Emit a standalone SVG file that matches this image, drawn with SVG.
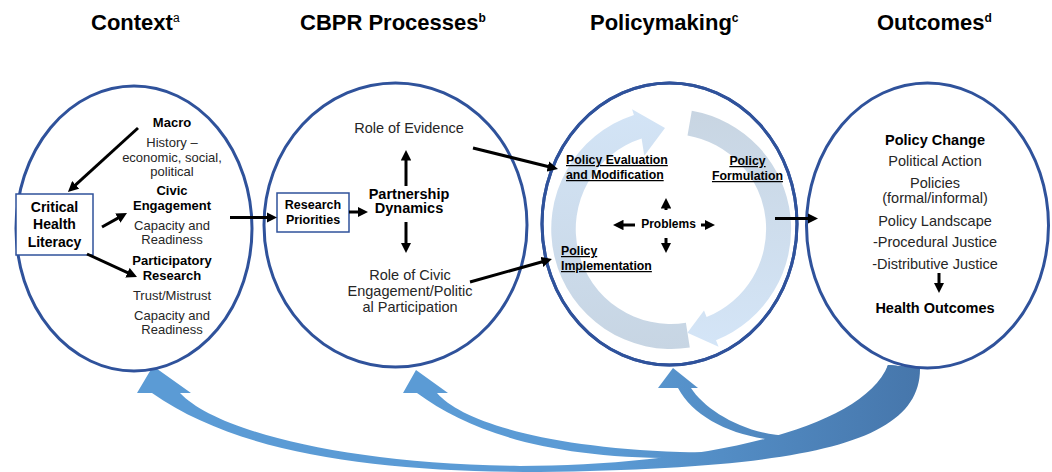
<svg xmlns="http://www.w3.org/2000/svg" width="1052" height="472" viewBox="0 0 1052 472">
  <style>
    text { font-family: "Liberation Sans", Arial, sans-serif; }
    .hdr { font-size: 22px; font-weight: bold; fill: #000; }
    .sup { font-size: 12px; }
    .t { fill: #262626; text-anchor: middle; }
    .b { font-weight: bold; fill: #000; }
    .s13 { font-size: 13px; }
    .s14 { font-size: 14.5px; }
    .s12 { font-size: 12.3px; }
    .u { text-decoration: underline; font-weight: bold; fill: #000; }
    .ring { fill: #fff; stroke: #2f529b; stroke-width: 3; }
    .box { fill: #fff; stroke: #2f529b; stroke-width: 1.5; }
    .arr { fill: none; stroke: #000; stroke-width: 3; marker-end: url(#head); }
    .fb { fill: url(#fbGrad); }
  </style>
  <defs>
    <marker id="head" viewBox="0 0 10 10" refX="4" refY="5" markerWidth="3.5" markerHeight="3.5" orient="auto">
      <path d="M0,0 L10,5 L0,10 z" fill="#000"/>
    </marker>
    <linearGradient id="fbGrad" gradientUnits="userSpaceOnUse" x1="600" y1="0" x2="920" y2="0">
      <stop offset="0" stop-color="#5b9bd5"/>
      <stop offset="1" stop-color="#4676ab"/>
    </linearGradient>
    <linearGradient id="cycL" gradientUnits="userSpaceOnUse" x1="0" y1="350" x2="0" y2="110">
      <stop offset="0" stop-color="#c7d5e3"/>
      <stop offset="1" stop-color="#d3e4f6"/>
    </linearGradient>
    <linearGradient id="cycR" gradientUnits="userSpaceOnUse" x1="0" y1="110" x2="0" y2="345">
      <stop offset="0" stop-color="#c8d5e2"/>
      <stop offset="1" stop-color="#d4e5f7"/>
    </linearGradient>
  </defs>

  <rect width="1052" height="472" fill="#fff"/>

  <!-- column headings -->
  <g id="headings">
    <text class="hdr" x="91" y="30">Context<tspan class="sup" font-weight="normal" dy="-8">a</tspan></text>
    <text class="hdr" x="300" y="30">CBPR Processes<tspan class="sup" dy="-8">b</tspan></text>
    <text class="hdr" x="590" y="30">Policymaking<tspan class="sup" dy="-8">c</tspan></text>
    <text class="hdr" x="877" y="30">Outcomes<tspan class="sup" dy="-8">d</tspan></text>
  </g>

  <!-- feedback arrows from outcomes back to each stage -->
  <g id="feedback">
    <path class="fb" d="M153 366 L191 393 L180 393 C215 430 340 464 520 466 C680 466 860 435 888 365 L920 368 C921 445 800 468 540 472 C380 472 240 455 152 393 L137 393 Z"/>
    <path class="fb" d="M416 370 L448 393 L437 393 C460 420 540 447 680 452 C800 456 875 420 888 365 L918 368 C915 420 820 455 690 458 C550 460 470 432 417 393 L403 393 Z"/>
    <path class="fb" d="M673 368 L698 388 L691 388 C705 410 745 435 790 436 C840 437 880 410 888 365 L918 368 C915 410 860 442 790 441 C740 440 695 420 678 388 L658 388 Z"/>
  </g>

  <!-- Context -->
  <g id="context">
    <ellipse class="ring" cx="134" cy="228.5" rx="118" ry="142.5"/>
    <text class="t b s13" x="172" y="127">Macro</text>
    <text class="t s13" x="172" y="147">History –</text>
    <text class="t s13" x="172" y="162">economic, social,</text>
    <text class="t s13" x="172" y="176">political</text>
    <text class="t b s13" x="172" y="195">Civic</text>
    <text class="t b s13" x="172" y="210">Engagement</text>
    <text class="t s13" x="172" y="230">Capacity and</text>
    <text class="t s13" x="172" y="244">Readiness</text>
    <text class="t b s13" x="172" y="265">Participatory</text>
    <text class="t b s13" x="172" y="280">Research</text>
    <text class="t s13" x="172" y="300">Trust/Mistrust</text>
    <text class="t s13" x="172" y="320">Capacity and</text>
    <text class="t s13" x="172" y="334">Readiness</text>
    <g id="critical-health-literacy">
      <rect class="box" x="16" y="194" width="77" height="61"/>
      <text class="t b" font-size="14" x="54.5" y="212">Critical</text>
      <text class="t b" font-size="14" x="54.5" y="229">Health</text>
      <text class="t b" font-size="14" x="54.5" y="247">Literacy</text>
    </g>
  </g>

  <!-- CBPR processes -->
  <g id="cbpr">
    <ellipse class="ring" cx="395.5" cy="225" rx="131.5" ry="142"/>
    <text class="t s14" x="409" y="133">Role of Evidence</text>
    <text class="t b s14" x="409" y="199">Partnership</text>
    <text class="t b s14" x="409" y="213">Dynamics</text>
    <text class="t s14" x="410" y="280">Role of Civic</text>
    <text class="t s14" x="410" y="296">Engagement/Politic</text>
    <text class="t s14" x="410" y="312">al Participation</text>
    <g id="research-priorities">
      <rect class="box" x="277" y="193" width="72" height="39"/>
      <text class="t b" font-size="12.5" x="313" y="209">Research</text>
      <text class="t b" font-size="12.5" x="313" y="224">Priorities</text>
    </g>
  </g>

  <!-- Policymaking cycle -->
  <g id="policymaking">
    <ellipse class="ring" cx="669.5" cy="224" rx="127.5" ry="141"/>
    <path fill="url(#cycL)" d="M689.8 347.5 A120 120 0 0 1 633.9 114.9 L632.1 109.2 L665 128 L644.3 155.7 L641.6 138.6 A95 95 0 0 0 685.9 322.8 Z"/>
    <path fill="url(#cycR)" d="M691.8 110.8 A120 120 0 0 1 716 340.3 L718.6 346.7 L687.4 332.7 L704 310.6 L706.6 317.1 A95 95 0 0 0 687.5 135.4 Z"/>
    <ellipse cx="669.5" cy="224" rx="127.5" ry="141" fill="none" stroke="#2f529b" stroke-width="3"/>
    <text class="s12 u" x="566" y="164">Policy Evaluation</text>
    <text class="s12 u" x="566" y="179">and Modification</text>
    <text class="s12 u" x="747.5" y="165" text-anchor="middle">Policy</text>
    <text class="s12 u" x="747.5" y="180" text-anchor="middle">Formulation</text>
    <text class="s12 u" x="561" y="255">Policy</text>
    <text class="s12 u" x="561" y="270">Implementation</text>
    <text class="t b" font-size="12" x="668.5" y="228">Problems</text>
  </g>

  <!-- Outcomes -->
  <g id="outcomes">
    <ellipse class="ring" cx="927.5" cy="225.5" rx="121" ry="142.5"/>
    <text class="t b s14" x="935" y="145">Policy Change</text>
    <text class="t s14" x="935" y="166">Political Action</text>
    <text class="t s14" x="935" y="188">Policies</text>
    <text class="t s14" x="935" y="203">(formal/informal)</text>
    <text class="t s14" x="935" y="226">Policy Landscape</text>
    <text class="t s14" x="935" y="247">-Procedural Justice</text>
    <text class="t s14" x="935" y="269">-Distributive Justice</text>
    <text class="t b s14" x="935" y="313">Health Outcomes</text>
  </g>

  <!-- connectors -->
  <g id="connectors">
    <path class="arr" d="M138 128 L72.6 187.7"/>
    <path class="arr" d="M102 227 L121.5 216.1"/>
    <path class="arr" d="M87 254 L131.3 274.4"/>
    <path class="arr" d="M230 217.5 L270.7 217.5"/>
    <path class="arr" d="M349 212 L361.7 212"/>
    <path class="arr" d="M406 186 L406 156.3"/>
    <path class="arr" d="M406 222 L406 246.7"/>
    <path class="arr" d="M473 148 L551.9 167.5"/>
    <path class="arr" d="M470 282 L545.9 260.7"/>
    <path class="arr" d="M635 225 L619.3 225"/>
    <path class="arr" d="M701 225 L708.7 225"/>
    <path class="arr" d="M666 210 L666 204.3"/>
    <path class="arr" d="M666 238 L666 246.7"/>
    <path class="arr" d="M775 218.5 L811.7 218.5"/>
    <path class="arr" d="M939 273 L939 286.7"/>
  </g>
</svg>
